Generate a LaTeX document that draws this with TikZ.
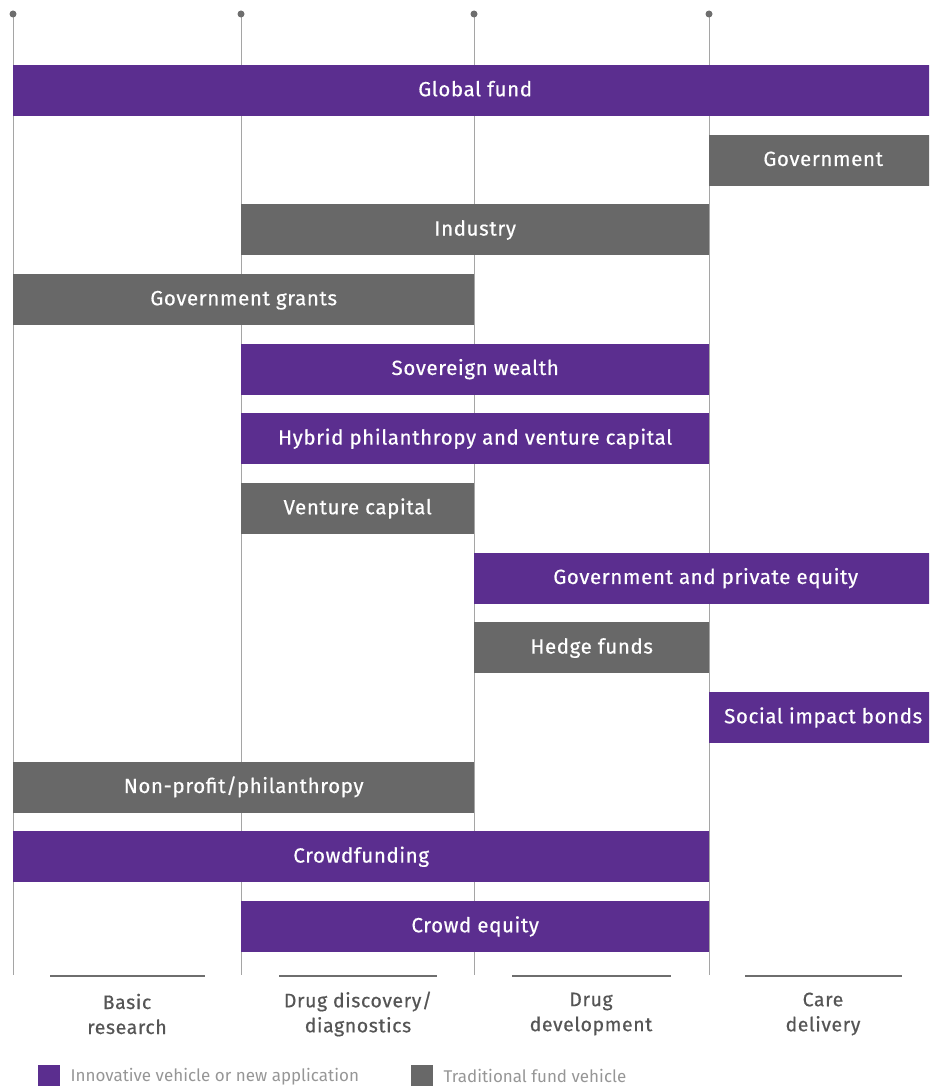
\documentclass[tikz,border=0pt]{standalone}
\usepackage{fontspec}
\setmainfont{Fira Sans}
\newfontfamily\barfont[LetterSpace=3, FakeBold=0.5]{Fira Sans}
\usetikzlibrary{positioning}
\definecolor{InnovPurple}{RGB}{91,46,143}
\definecolor{TradGray}{RGB}{104,104,104}
\definecolor{RuleGray}{RGB}{165,165,165}
\definecolor{DotGray}{RGB}{110,110,110}
\definecolor{LabelGray}{RGB}{85,85,85}
\definecolor{KeyGray}{RGB}{150,150,150}
\tikzset{
	fundbar/.style={rectangle, minimum height=51pt, inner sep=0pt, anchor=west,
		text height=15pt, text depth=3.5pt,
		text=white, font=\barfont\fontsize{20.5}{24}\selectfont},
	innov/.style={fundbar, fill=InnovPurple},
	trad/.style={fundbar, fill=TradGray},
	stage/.style={align=center, text=LabelGray, font=\barfont\fontsize{19.5}{25}\selectfont},
	keybox/.style={rectangle, minimum size=22pt, inner sep=0pt, anchor=north west},
	keytext/.style={text=KeyGray, inner sep=0pt, font=\fontsize{17}{20}\selectfont}
}

\begin{document}
\begin{tikzpicture}[x=1pt, y=-1pt]
		\path[use as bounding box, clip] (0,0) rectangle (929,1086);
		
		% stage lines
		\foreach \sx in {13,241,474,709} {
			\draw[RuleGray, line width=1pt] (\sx,14) -- (\sx,975);
			\fill[DotGray] (\sx,14) circle (3.5pt);
		}
		
		% funding vehicles
		\node[innov, minimum width=924pt] (globalfund) at (13,90.5) {Global fund};
		\node[trad, minimum width=228pt] (government) at (709,160.2) {Government};
		\node[trad, minimum width=468pt] (industry) at (241,229.8) {Industry};
		\node[trad, minimum width=461pt] (govgrants) at (13,299.5) {Government grants};
		\node[innov, minimum width=468pt] (sovereign) at (241,369.2) {Sovereign wealth};
		\node[innov, minimum width=468pt] (hybrid) at (241,438.8) {Hybrid philanthropy and venture capital};
		\node[trad, minimum width=233pt] (venture) at (241,508.5) {Venture capital};
		\node[innov, minimum width=463pt] (govprivate) at (474,578.2) {Government and private equity};
		\node[trad, minimum width=235pt] (hedge) at (474,647.8) {Hedge funds};
		\node[innov, minimum width=228pt] (socialbonds) at (709,717.5) {Social impact bonds};
		\node[trad, minimum width=461pt] (nonprofit) at (13,787.2) {Non-profit/philanthropy};
		\node[innov, minimum width=696pt] (crowdfunding) at (13,856.8) {Crowdfunding};
		\node[innov, minimum width=468pt] (crowdequity) at (241,926.5) {Crowd equity};
		
		% stages
		\draw[DotGray, line width=2pt] (50,976) -- (205,976);
		\draw[DotGray, line width=2pt] (279,976) -- (437,976);
		\draw[DotGray, line width=2pt] (512,976) -- (671,976);
		\draw[DotGray, line width=2pt] (745,976) -- (902,976);
		\node[stage] (basic) at (127,1014) {Basic\\research};
		\node[stage] (discovery) at (358,1014) {Drug discovery/\\diagnostics};
		\node[stage] (development) at (591,1014) {Drug\\development};
		\node[stage] (care) at (823,1014) {Care\\delivery};
		
		% legend
		\node[keybox, fill=InnovPurple] (keyinnov) at (38,1065) {};
		\node[keytext, right=10pt of keyinnov] {Innovative vehicle or new application};
		\node[keybox, fill=TradGray] (keytrad) at (411,1065) {};
		\node[keytext, right=10pt of keytrad] {Traditional fund vehicle};
	\end{tikzpicture}
\end{document}
